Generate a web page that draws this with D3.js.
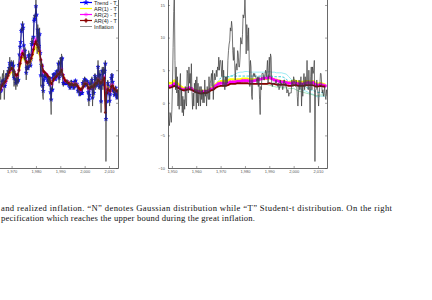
<!DOCTYPE html>
<html>
<head>
<meta charset="utf-8">
<script src="https://cdn.jsdelivr.net/npm/d3@7"></script>
<style>
body{margin:0;background:#fff;}
</style>
</head>
<body>
<div class="fig"></div>
<script>
// quarterly inflation, annualised %, from 1948Q1
const inflation = [
 9.5, 8.0, 3.0,-2.5,  -3.5,-1.5,-2.0,-3.0,  -1.0, 3.0, 8.5,14.0,  17.0, 6.5, 2.0, 5.5,
 1.5, 4.0,-0.5, 2.0,  -1.0, 3.0, 4.5,-0.5,   2.0,-1.5, 1.0,-2.0,   0.5,-1.0, 2.5, 0.0,
-0.5, 5.0, 4.5, 1.5,   5.5, 3.0, 4.5, 2.0,   6.0, 1.5,-1.0, 1.5,  -0.5, 3.0, 1.5, 3.5,
-1.0, 4.0, 0.0, 3.0,  -0.5, 1.5, 2.5,-0.5,   2.5, 0.5, 2.0, 0.0,   1.5, 0.0, 3.5, 1.0,
 2.0,-0.5, 2.5, 1.0,   0.5, 4.0, 0.5, 3.0,   3.5, 4.5, 2.5, 5.0,   0.5, 3.0, 4.5, 3.5,
 4.0, 5.0, 4.0, 5.5,   5.0, 7.0, 5.0, 6.5,   6.5, 5.5, 4.0, 6.5,   2.5, 5.0, 3.0, 2.0,
 4.0, 2.5, 4.0, 3.0,   6.5, 8.0, 9.0, 9.5,  11.5,11.0,12.5,11.5,   8.0, 6.5, 8.5, 6.5,
 3.5, 5.5, 6.0, 5.0,   8.0, 7.5, 5.5, 5.5,   7.0,10.0, 9.5, 9.0,  10.5,13.5,13.0,13.5,
16.0,13.0, 7.5,12.0,  10.5, 8.0,11.5, 6.5,   2.5, 6.5, 5.5, 1.0,   0.5, 4.0, 4.5, 4.0,
 4.5, 4.0, 4.0, 3.5,   3.0, 4.0, 2.5, 4.0,   0.5,-1.8, 2.5, 2.0,   4.5, 4.5, 4.5, 3.5,
 3.5, 4.5, 5.0, 4.0,   5.0, 6.5, 3.0, 4.5,   7.0, 4.0, 7.5, 7.0,   3.0, 2.5, 3.0, 3.0,
 3.0, 3.0, 3.0, 3.5,   3.0, 3.0, 2.5, 3.0,   2.0, 2.5, 3.5, 2.5,   3.0, 3.0, 2.0, 2.5,
 3.5, 3.5, 2.5, 3.0,   2.5, 1.5, 2.0, 2.0,   1.0, 1.5, 1.5, 1.5,   1.5, 3.5, 3.0, 2.5,
 4.0, 3.5, 3.0, 2.5,   3.5, 3.0, 1.0,-0.5,   1.5, 3.5, 2.0, 2.5,   4.0,-0.5, 3.0, 1.0,
 3.5, 4.5, 2.0, 4.0,   2.5, 3.0, 6.5, 3.0,   2.0, 5.0, 2.5,-1.5,   4.0, 5.5, 2.0, 5.5,
 4.5, 5.0, 6.5,-9.0,   2.0, 2.0, 3.5, 2.5,   1.5,-0.5, 1.5, 2.5,   4.5, 4.5, 3.0, 1.5,
 2.0, 1.0, 1.5, 2.5,   1.0, 0.5, 2.0, 1.0
];
// left panel, Trend - T, quarterly from 1964Q1
const trendT = [
 1.4,1.3,1.4,1.5, 1.6,2.1,1.8,2.0, 2.7,3.2,3.4,3.4, 2.6,2.6,3.2,3.7, 4.0,4.3,4.4,4.8,
 5.3,6.1,5.7,5.9, 6.0,6.0,5.0,5.7, 3.8,4.3,3.7,3.0, 3.3,3.2,3.4,3.5, 5.8,7.4,8.6,9.3,
 11.0,11.2,12.0,11.5, 8.8,7.2,8.0,6.9, 4.6,5.3,5.8,5.3, 7.2,7.3,6.0,5.7, 6.7,9.0,9.3,9.0,
 10.1,12.6,12.9,13.3, 14.8,13.5,9.5,11.2, 10.6,8.7,10.5,7.6, 4.2,5.8,5.5,2.6, 1.8,3.5,4.2,4.0,
 4.3,4.1,4.0,3.6, 3.2,3.8,2.9,3.7, 1.6,0.5,2.0,2.0, 3.8,4.3,4.4,3.7, 3.6,4.3,4.8,4.2,
 4.8,6.0,3.8,4.4, 6.2,4.7,6.7,6.8, 4.2,3.0,3.0,3.0, 3.0,3.0,3.0,3.3, 3.1,3.0,2.7,2.9,
 2.3,2.5,3.2,2.7, 2.9,3.0,2.3,2.5, 3.2,3.4,2.7,2.9, 2.6,1.8,2.0,2.0, 1.3,1.5,1.5,1.5,
 1.5,3.0,3.0,2.6, 3.6,3.5,3.1,2.7, 3.3,3.1,1.6,0.5, 1.2,2.9,2.2,2.4, 3.5,0.8,2.5,1.5,
 3.0,4.1,2.6,3.7, 2.8,3.0,5.5,3.5, 2.4,4.3,3.0,0.2, 3.1,4.9,2.8,4.8, 4.6,4.9,6.0,-2.5,
 0.2,1.5,3.0,2.6, 1.8,0.3,1.3,2.2, 3.8,4.2,3.2,1.9, 2.0,1.2,1.5,2.3, 1.3,0.8,1.7,1.2
];
// left panel, half-yearly from 1964
const ar1T = [
 1.8,1.9, 2.0,2.1, 2.5,2.8, 2.9,3.1, 3.5,3.8, 4.2,4.5, 4.7,4.7, 4.4,4.1, 3.9,4.0, 4.7,5.6,
 6.5,7.0, 6.9,6.5, 5.9,5.8, 6.0,6.0, 6.4,7.0, 7.7,8.3, 8.6,8.1, 7.8,7.3, 6.1,5.4, 4.8,4.6,
 4.5,4.3, 4.0,3.9, 3.3,3.1, 3.5,3.7, 3.9,4.1, 4.4,4.4, 4.7,5.0, 4.4,3.9, 3.6,3.5, 3.3,3.2,
 3.1,3.1, 3.0,2.9, 3.0,3.0, 2.8,2.5, 2.3,2.2, 2.4,2.7, 3.0,3.1, 3.0,2.5, 2.4,2.6, 2.7,2.6,
 2.9,3.2, 3.3,3.7, 3.5,3.2, 3.3,3.6, 3.9,2.9, 2.3,2.5, 2.2,2.0, 2.8,2.8, 2.4,2.2, 2.0,1.9
];
const ar2T = [
 1.6,1.7, 1.8,2.0, 2.5,2.9, 3.0,3.2, 3.7,4.1, 4.6,5.0, 5.3,5.2, 4.7,4.3, 4.0,4.1, 5.0,6.2,
 7.4,8.0, 7.6,7.0, 6.2,6.0, 6.4,6.3, 6.9,7.6, 8.5,9.4, 9.8,9.0, 8.6,8.0, 6.5,5.6, 4.7,4.6,
 4.5,4.3, 4.0,3.8, 3.0,2.8, 3.4,3.7, 3.9,4.1, 4.5,4.4, 4.8,5.2, 4.3,3.7, 3.4,3.3, 3.2,3.0,
 2.8,2.9, 2.9,2.7, 2.9,2.9, 2.6,2.3, 2.0,1.9, 2.2,2.6, 3.0,3.0, 2.9,2.2, 2.1,2.4, 2.5,2.3,
 2.8,3.1, 3.1,3.7, 3.4,3.0, 3.2,3.6, 4.0,2.5, 1.8,2.2, 1.9,1.7, 2.7,2.8, 2.2,2.0, 1.8,1.7
];
const ar4T = [
 1.7,1.8, 1.9,2.1, 2.6,2.9, 3.1,3.3, 3.8,4.2, 4.7,5.1, 5.3,5.2, 4.8,4.4, 4.2,4.3, 5.0,6.0,
 7.0,7.6, 7.4,6.9, 6.3,6.1, 6.3,6.3, 6.8,7.4, 8.2,9.0, 9.4,8.9, 8.5,7.9, 6.6,5.7, 4.9,4.7,
 4.5,4.3, 4.0,3.8, 3.1,2.9, 3.4,3.7, 3.9,4.1, 4.4,4.4, 4.7,5.0, 4.3,3.8, 3.4,3.3, 3.1,3.0,
 2.8,2.8, 2.8,2.7, 2.8,2.8, 2.6,2.3, 2.1,2.0, 2.2,2.5, 2.9,2.9, 2.8,2.3, 2.2,2.4, 2.5,2.4,
 2.7,3.0, 3.0,3.5, 3.3,3.0, 3.1,3.5, 3.8,-1.5, 1.5,2.1, 1.9,1.8, 2.5,2.6, 2.2,2.0, 1.8,1.8
];
// right panel, yearly from 1948
const ar1R = [
 3.2,3.0,3.0,3.4,3.1,2.7,2.4,2.2,2.2,2.3,2.2,2.0,1.9,1.8,1.8,1.8,1.8,1.9,2.2,2.4,2.8,3.1,
 3.3,3.3,3.3,3.4,3.6,3.6,3.5,3.6,3.6,3.7,3.7,3.7,3.6,3.6,3.6,3.6,3.6,3.7,3.7,3.7,3.8,3.7,
 3.6,3.5,3.4,3.3,3.3,3.2,3.1,3.2,3.4,3.3,3.2,3.2,3.2,3.3,3.3,3.2,3.3,3.0,2.9,3.0,2.9,2.8
];
const ar2R = [
 2.7,2.5,2.6,2.9,2.6,2.3,2.1,2.0,2.1,2.3,2.2,1.9,1.8,1.7,1.6,1.7,1.7,1.8,2.1,2.2,2.6,2.9,
 3.0,3.0,2.9,3.0,3.2,3.2,3.2,3.3,3.3,3.4,3.4,3.4,3.3,3.3,3.4,3.5,3.6,3.7,3.8,3.8,3.9,3.7,
 3.5,3.4,3.3,3.2,3.2,3.1,3.0,3.0,3.1,3.0,2.9,2.9,2.9,3.0,3.1,3.0,3.1,2.8,2.7,2.8,2.7,2.6
];
const ar4R = [
 2.5,2.3,2.4,2.6,2.4,2.2,2.0,1.9,2.0,2.1,2.0,1.8,1.6,1.5,1.4,1.5,1.5,1.6,1.9,2.0,2.3,2.5,
 2.6,2.6,2.6,2.7,2.9,2.9,2.9,3.0,3.0,3.0,3.0,3.0,2.9,2.9,2.9,2.9,2.9,2.9,2.9,2.9,3.0,2.9,
 2.9,2.8,2.8,2.8,2.8,2.7,2.6,2.6,2.7,2.7,2.6,2.6,2.6,2.7,2.7,2.7,2.7,2.5,2.5,2.6,2.5,2.5
];
const boundR = [
 2.6,2.5,2.5,2.7,2.5,2.3,2.1,2.0,2.0,2.1,2.1,1.9,1.8,1.7,1.7,1.7,1.7,1.8,2.1,2.3,2.8,3.3,
 3.8,4.0,4.0,4.0,4.1,4.1,4.1,4.1,4.1,4.1,4.1,4.1,4.1,4.1,4.1,4.1,4.1,4.1,4.1,4.1,4.1,4.1,
 4.0,4.0,4.0,4.0,3.9,3.6,3.3,3.3,3.5,3.4,3.0,2.8,2.6,2.4,2.2,2.0,1.9,1.7,1.6,1.6,1.5,1.5
];
const upperR = [
 2.7,2.5,2.5,2.8,2.5,2.3,2.1,2.0,2.0,2.1,2.1,1.9,1.8,1.7,1.7,1.7,1.7,1.8,2.1,2.3,2.7,3.1,
 3.4,3.5,3.5,3.7,4.1,4.2,4.4,4.6,4.7,4.7,4.8,4.8,4.7,4.7,4.7,4.7,4.7,4.7,4.7,4.7,4.8,4.7,
 4.7,4.6,4.6,4.6,4.5,4.4,4.0,3.6,3.4,3.0,2.4,2.1,1.9,1.8,1.6,1.4,1.3,1.0,0.9,1.0,1.0,1.0
];
// right panel, yearly from 1985
const greenR = [3.0,2.9,2.9,2.8,2.8,2.7,2.6,2.5,2.4,2.4,2.3,2.3,2.3,2.2,2.2,2.2,2.0,1.8,1.7,1.6,1.5,1.4,1.3,1.2,1.1,1.1,1.2,1.2,1.2];

const legendLabels = ['Trend - T','AR(1) - T','AR(2) - T','AR(4) - T','Inflation'];
const leftTicks = [1970,1980,1990,2000,2010];
const rightTicks = [1950,1960,1970,1980,1990,2000,2010];
const yTicks = [-10,-5,0,5,10,15];
const caption = [
  'and realized inflation.  \u201CN\u201D denotes Gaussian distribution while \u201CT\u201D Student-t distribution.  On the right',
  'pecification which reaches the upper bound during the great inflation.'
];

const width = 432;
const height = 300;
const svg = d3.select('.fig').append('svg')
    .attr('width',width)
    .attr('height',height)
    .style('display','block');

const yearDomain = [1948.4,2013.7];
const y = d3.scaleLinear().domain([-10,20]).range([168,-27.6]);

// turn a value list into [year, value] points
const toPoints = function(vals,start,step){
    return vals.map((v,i)=>[start+i*step,v]);
};

const makePanel = function(id,x0,x1,series,ticks,showYLabels){
    const x = d3.scaleLinear().domain(yearDomain).range([x0,x1]);
    svg.append('clipPath').attr('id',id)
        .append('rect').attr('x',x0).attr('y',-40).attr('width',x1-x0).attr('height',208);
    const g = svg.append('g');
    const plot = g.append('g').attr('clip-path','url(#'+id+')');
    const line = d3.line().x(d=>x(d[0])).y(d=>y(d[1]));
    series.forEach(s=>{
        plot.append('path')
            .datum(s.points)
            .attr('d',line)
            .attr('fill','none')
            .attr('stroke',s.color)
            .attr('stroke-width',s.width)
            .attr('stroke-dasharray',s.dash||null)
            .attr('stroke-linejoin','round');
        if(s.marker){
            plot.append('g').selectAll('path')
                .data(s.points)
                .enter()
                .append('path')
                .attr('transform',d=>'translate('+x(d[0])+','+y(d[1])+')')
                .attr('d',d3.symbol().type(s.marker).size(s.msize))
                .attr('fill',s.mfill)
                .attr('stroke',s.color)
                .attr('stroke-width',0.5);
        }
    });
    // axes, ticks pointing inwards
    const bottom = g.append('g').attr('transform','translate(0,168)')
        .call(d3.axisBottom(x).tickValues(ticks).tickSizeInner(-2).tickSizeOuter(0).tickPadding(2));
    const left = g.append('g').attr('transform','translate('+x0+',0)')
        .call(d3.axisLeft(y).tickValues(yTicks).tickSizeInner(-2).tickSizeOuter(0).tickPadding(3)
            .tickFormat(showYLabels ? d3.format('d') : ''));
    const right = g.append('g').attr('transform','translate('+x1+',0)')
        .call(d3.axisRight(y).tickValues(yTicks).tickSizeInner(-2).tickSizeOuter(0).tickFormat(''));
    [bottom,left,right].forEach(a=>{
        a.select('.domain').attr('stroke','#444').attr('stroke-width',0.8);
        a.selectAll('.tick line').attr('stroke','#444').attr('stroke-width',0.5);
        a.selectAll('.tick text').attr('font-size',4).attr('fill','#555')
            .attr('font-family','Liberation Sans, Arial, sans-serif');
    });
    return g;
};

const grayLine = {points:toPoints(inflation,1948,0.25),color:'#3a3a3a',width:0.7};

// left panel (mostly cut off at the left edge)
const leftPanel = makePanel('clipL',-41,118,[
    {points:toPoints(trendT,1964,0.25),color:'#0000ff',width:1,marker:d3.symbolStar,msize:5,mfill:'#0000ff'},
    {points:toPoints(ar1T,1964,0.5),color:'#ffff00',width:1.6},
    {points:toPoints(ar2T,1964,0.5),color:'#ff00ff',width:1.4,marker:d3.symbolCircle,msize:6,mfill:'none'},
    {points:toPoints(ar4T,1964,0.5),color:'#8b0000',width:1.4,marker:d3.symbolCross,msize:3,mfill:'#8b0000'},
    grayLine
],leftTicks,false);

// legend
const legendColors = ['#0000ff','#ffff00','#ff00ff','#8b0000','#777'];
const legendMarkers = [d3.symbolStar,null,d3.symbolCircle,d3.symbolCross,null];
const legend = leftPanel.append('g');
legendLabels.forEach((lab,i)=>{
    const ly = 2.5+i*6;
    legend.append('line')
        .attr('x1',80).attr('x2',92).attr('y1',ly).attr('y2',ly)
        .attr('stroke',legendColors[i]).attr('stroke-width',i===4 ? 0.8 : 1.2);
    if(legendMarkers[i]){
        legend.append('path')
            .attr('transform','translate(86,'+ly+')')
            .attr('d',d3.symbol().type(legendMarkers[i]).size(7))
            .attr('fill',i===2 ? 'none' : legendColors[i])
            .attr('stroke',legendColors[i]).attr('stroke-width',0.5);
    }
    legend.append('text')
        .attr('x',94).attr('y',ly+2)
        .attr('font-size',5.6).attr('fill','#222')
        .attr('font-family','Liberation Sans, Arial, sans-serif')
        .text(lab);
});

// right panel
makePanel('clipR',168,327,[
    {points:toPoints(upperR,1948,1),color:'#8fe8f0',width:0.9},
    {points:toPoints(boundR,1948,1),color:'#20c8d8',width:0.9,dash:'2.5,1.5'},
    {points:toPoints(greenR,1985,1),color:'#88d8a8',width:0.8},
    {points:toPoints(ar1R,1948,1),color:'#ffff00',width:2.4},
    {points:toPoints(ar2R,1948,1),color:'#ff00ff',width:2.0,marker:d3.symbolCircle,msize:6,mfill:'#ff00ff'},
    {points:toPoints(ar4R,1948,1),color:'#8b0000',width:1.8},
    grayLine
],rightTicks,true);

// caption text from the paper
svg.selectAll('text.caption')
    .data(caption)
    .enter()
    .append('text')
    .attr('class','caption')
    .attr('x',1)
    .attr('y',(d,i)=>211+i*10)
    .attr('font-size',8.6)
    .attr('fill','#111')
    .attr('font-family','Liberation Serif, DejaVu Serif, serif')
    .attr('textLength',(d,i)=>i===0 ? 391 : 254)
    .attr('lengthAdjust','spacing')
    .text(d=>d);
</script>
</body>
</html>
